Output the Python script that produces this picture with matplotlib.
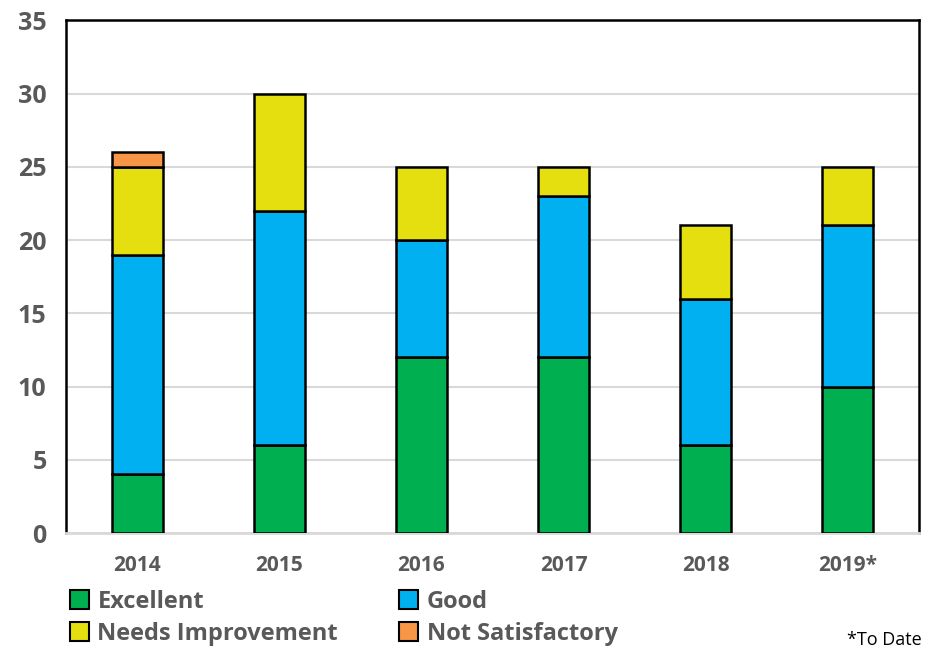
import matplotlib.pyplot as plt
from matplotlib.patches import Patch
import numpy as np

years = ['2014', '2015', '2016', '2017', '2018', '2019*']
excellent = [4, 6, 12, 12, 6, 10]
good = [15, 16, 8, 11, 10, 11]
needs_improvement = [6, 8, 5, 2, 5, 4]
not_satisfactory = [1, 0, 0, 0, 0, 0]

series = [
    ('Excellent', excellent, '#00B050'),
    ('Good', good, '#00B0F0'),
    ('Needs Improvement', needs_improvement, '#E5DF10'),
    ('Not Satisfactory', not_satisfactory, '#F79646'),
]

plt.rcParams['font.family'] = ['Open Sans', 'DejaVu Sans']
grey = '#595959'

fig = plt.figure(figsize=(9.26, 6.54), dpi=100)
ax = fig.add_axes([0.0713, 0.185, 0.921, 0.784])

x = np.arange(len(years))
bottom = np.zeros(len(years))
for name, vals, color in series:
    vals = np.array(vals, dtype=float)
    mask = vals > 0
    ax.bar(x[mask], vals[mask], 0.36, bottom=bottom[mask], color=color,
           edgecolor='black', linewidth=1.8, zorder=3)
    bottom += vals

ax.set_xlim(-0.5, len(years) - 0.5)
ax.set_ylim(0, 35)
ax.set_yticks(range(0, 36, 5))
ax.yaxis.grid(True, color='#D9D9D9', linewidth=1.5, zorder=0)
ax.set_xticks(x)
ax.set_xticklabels(years)
ax.tick_params(axis='both', length=0, colors=grey)
ax.tick_params(axis='y', pad=14, labelsize=18)
ax.tick_params(axis='x', pad=16, labelsize=15)
for lbl in ax.get_xticklabels() + ax.get_yticklabels():
    lbl.set_fontweight('bold')
    lbl.set_color(grey)

for s in ['top', 'right', 'left']:
    ax.spines[s].set_color('black')
    ax.spines[s].set_linewidth(1.8)
ax.spines['bottom'].set_color('#D9D9D9')
ax.spines['bottom'].set_linewidth(2)

order = [0, 2, 1, 3]
handles = [Patch(facecolor=series[i][2], edgecolor='black', linewidth=1.5) for i in order]
labels = [series[i][0] for i in order]
leg = fig.legend(handles, labels, ncol=2, loc='upper left', bbox_to_anchor=(0.053, 0.131),
                 frameon=False, handlelength=0.8, handleheight=0.9, handletextpad=0.35,
                 columnspacing=2.6, labelspacing=0.35, prop={'size': 17, 'weight': 'bold'})
for t in leg.get_texts():
    t.set_color(grey)

fig.text(0.995, 0.008, '*To Date', ha='right', va='bottom', fontsize=13, color='black')

fig.savefig('out.png', dpi=100)
